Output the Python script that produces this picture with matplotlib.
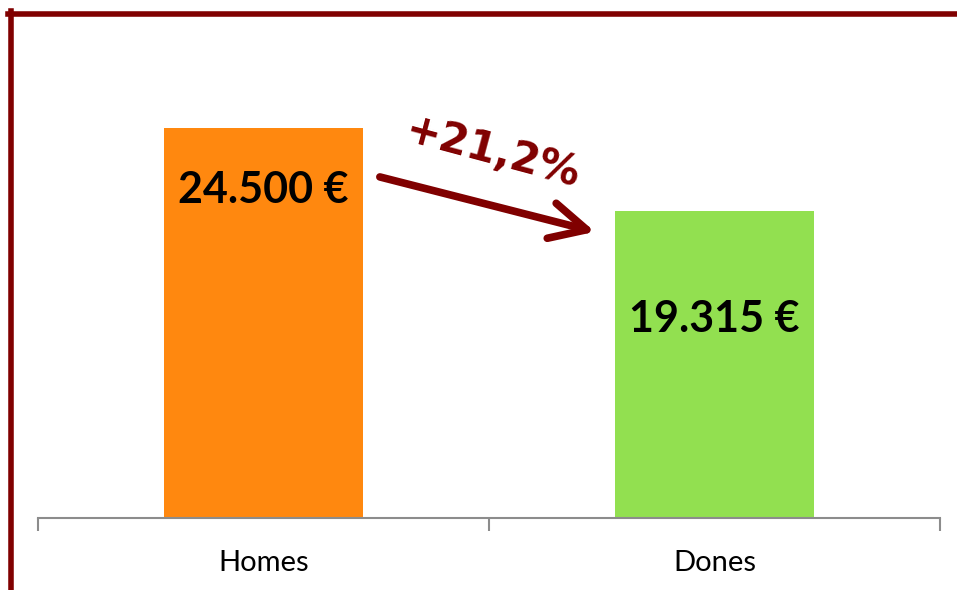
import numpy as np
import matplotlib.pyplot as plt
from matplotlib.lines import Line2D

# dades
categories = ['Homes', 'Dones']
salaris = [24500, 19315]
etiquetes = ['24.500 €', '19.315 €']
colors = ['#FF880F', '#92E050']
diferencia = '+21,2%'

W, H = 957, 590
fig = plt.figure(figsize=(W / 100, H / 100), dpi=100)
ax = fig.add_axes([38 / W, (H - 518) / H, (940 - 38) / W, (518 - 41) / H])

x = np.arange(len(categories))
ax.bar(x, salaris, width=0.44, color=colors)
ax.set_xlim(-0.5, 1.5)
ax.set_ylim(0, 30000)

# etiquetes dins les barres
ax.text(x[0], salaris[0] - 3900, etiquetes[0], ha='center', va='center',
        fontsize=31, fontweight='bold', family='Lato', color='black')
ax.text(x[1], salaris[1] - 6800, etiquetes[1], ha='center', va='center',
        fontsize=31, fontweight='bold', family='Lato', color='black')

# eixos
for s in ['top', 'right', 'left']:
    ax.spines[s].set_visible(False)
ax.spines['bottom'].set_color('#8c8c8c')
ax.spines['bottom'].set_linewidth(1.5)
ax.set_yticks([])
ax.set_xticks([-0.5, 0.5, 1.5])
ax.set_xticklabels([])
ax.set_xticks(x, minor=True)
ax.set_xticklabels(categories, minor=True, fontsize=21, family='Lato')
ax.tick_params(axis='x', which='major', length=9, width=1.5, color='#8c8c8c', direction='out')
ax.tick_params(axis='x', which='minor', length=0, pad=23)

# fletxa
ax.annotate('', xy=(0.735, 18000), xytext=(0.258, 21450),
            arrowprops=dict(arrowstyle='->, head_length=2.6, head_width=1.3',
                            color='#800000', lw=5.5, shrinkA=0, shrinkB=0))
ax.text(0.509, 23000, diferencia, rotation=-15, ha='center', va='center',
        fontsize=30, fontweight='bold', family='DejaVu Sans', color='#800000')

# marc
fig.add_artist(Line2D([8 / W, 1], [1 - 13.5 / H, 1 - 13.5 / H], color='#800000', lw=4))
fig.add_artist(Line2D([10.5 / W, 10.5 / W], [0, 1 - 11 / H], color='#800000', lw=4))

fig.savefig('out.png', dpi=100)
